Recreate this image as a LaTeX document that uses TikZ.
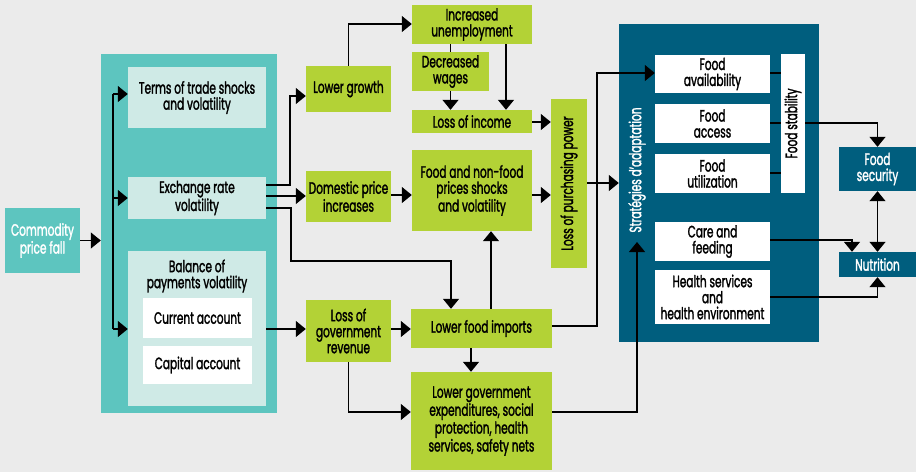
\documentclass[tikz,border=0pt]{standalone}
\usepackage{fontspec}
\setmainfont[FakeStretch=0.64, FakeBold=1.6]{Poppins}
\usetikzlibrary{arrows.meta}

\definecolor{bgrey}{HTML}{EBEBEB}
\definecolor{teal}{HTML}{5DC5BF}
\definecolor{paleteal}{HTML}{CFEAE6}
\definecolor{lime}{HTML}{B3D236}
\definecolor{deepteal}{HTML}{005E7E}

\tikzset{
  every node/.style={inner sep=1pt, align=center, font=\fontsize{16.5}{16}\selectfont},
  tealbox/.style={fill=teal, text=white},
  palebox/.style={fill=paleteal},
  greenbox/.style={fill=lime},
  whitebox/.style={fill=white},
  darkbox/.style={fill=deepteal, text=white},
  conn/.style={line width=1.3pt, black},
  arr/.style={conn, -{Triangle[length=10pt,width=16pt]}},
  darr/.style={conn, {Triangle[length=10pt,width=16pt]}-{Triangle[length=10pt,width=16pt]}},
}

\begin{document}
\begin{tikzpicture}[x=1pt, y=-1pt]
  % canvas
  \fill[bgrey] (0,0) rectangle (916,472);
  \useasboundingbox (0,0) rectangle (916,472);

  % --- left column ---
  \node[tealbox, minimum width=75pt, minimum height=65pt] (commodity) at (42.5,240.5) {Commodity\\price fall};
  \node[tealbox, minimum width=176pt, minimum height=359pt] (channels) at (189,233.5) {};
  \node[palebox, minimum width=138pt, minimum height=61pt] (terms) at (197,97.5) {Terms of trade shocks\\and volatility};
  \node[palebox, minimum width=138pt, minimum height=42pt] (exch) at (197,198) {Exchange rate\\volatility};
  \node[palebox, minimum width=138pt, minimum height=155pt] (bop) at (197,328.5) {};
  \node (boptext) at (197,276) {Balance of\\payments volatility};
  \node[whitebox, minimum width=109pt, minimum height=40pt] (current) at (197.5,318) {Current account};
  \node[whitebox, minimum width=109pt, minimum height=38pt] (capital) at (197.5,365) {Capital account};

  % --- middle column ---
  \node[greenbox, minimum width=85pt, minimum height=46pt] (growth) at (348.5,89) {Lower growth};
  \node[greenbox, minimum width=85pt, minimum height=51pt] (domestic) at (348.5,196.5) {Domestic price\\increases};
  \node[greenbox, minimum width=85pt, minimum height=62pt] (lossgov) at (348.5,331) {Loss of\\government\\revenue};

  \node[greenbox, minimum width=120pt, minimum height=39pt] (unemp) at (472,24.5) {Increased\\unemployment};
  \node[greenbox, minimum width=77pt, minimum height=39pt] (wages) at (450.5,71.5) {Decreased\\wages};
  \node[greenbox, minimum width=120pt, minimum height=23pt] (income) at (472,121.5) {Loss of income};
  \node[greenbox, minimum width=120pt, minimum height=81pt] (prices) at (472,190.5) {Food and non-food\\prices shocks\\and volatility};
  \node[greenbox, minimum width=141pt, minimum height=39pt] (imports) at (481.5,328.5) {Lower food imports};
  \node[greenbox, minimum width=141pt, minimum height=98pt] (govexp) at (481.5,421) {Lower government\\expenditures, social\\protection, health\\services, safety nets};
  % rotated: its north anchor faces left, south faces right
  \node[greenbox, minimum width=169pt, minimum height=36pt, rotate=90] (purch) at (569,183.5) {Loss of purchasing power};

  % --- adaptation block ---
  \node[darkbox, minimum width=200pt, minimum height=318pt] (adapt) at (719,183) {};
  \node[text=white, rotate=90] (adapttext) at (637,170) {Stratégies d’adaptation};
  \node[whitebox, minimum width=115pt, minimum height=38pt] (avail) at (712.5,74) {Food\\availability};
  \node[whitebox, minimum width=115pt, minimum height=39pt] (access) at (712.5,123.5) {Food\\access};
  \node[whitebox, minimum width=115pt, minimum height=39pt] (util) at (712.5,173.5) {Food\\utilization};
  \node[whitebox, minimum width=139pt, minimum height=24pt, rotate=90] (stab) at (793,123.5) {Food stability};
  \node[whitebox, minimum width=115pt, minimum height=39pt] (care) at (712.5,241.5) {Care and\\feeding};
  \node[whitebox, minimum width=115pt, minimum height=54pt] (health) at (712.5,297) {Health services\\and\\health environment};

  % --- outcomes ---
  \node[darkbox, minimum width=77pt, minimum height=44pt] (secur) at (877.5,169) {Food\\security};
  \node[darkbox, minimum width=77pt, minimum height=25pt] (nutr) at (877.5,264.5) {Nutrition};

  % --- junction points ---
  \coordinate (trunkTop) at (113,94);
  \coordinate (trunkBot) at (113,329);
  \coordinate (exA) at (290,185);
  \coordinate (exB) at (291,208);
  \coordinate (bendImp) at (451,261);
  \coordinate (sideRail) at (597,326);
  \coordinate (govRail) at (637,412);
  \coordinate (adaptIn) at (637,242);

  % --- connectors: left part ---
  \draw[arr] (commodity.east) -- (channels.west |- commodity.east);
  \draw[conn] (trunkTop) -- (trunkBot);
  \draw[arr] (trunkTop) -- (terms.west |- trunkTop);
  \draw[arr] (trunkTop |- exch.west) -- (exch.west);
  \draw[arr] (trunkBot) -- (bop.west |- trunkBot);

  \draw[arr] (exch.east |- exA) -- (exA) |- (growth.west |- 0,96);
  \draw[arr] (exch.east |- 0,196) -- (domestic.west |- 0,196);
  \draw[arr] (exch.east |- exB) -- (exB) |- (bendImp) -- (imports.north -| bendImp);
  \draw[arr] (bop.east |- 0,329) -- (lossgov.west |- 0,329);

  % --- connectors: middle part ---
  \draw[arr] (growth.north) |- (unemp.west |- 0,24);
  \draw[conn] (unemp.south -| wages.north) -- (wages.north);
  \draw[arr] (wages.south) -- (income.north -| wages.south);
  \draw[arr] (unemp.south -| 506,0) -- (income.north -| 506,0);
  \draw[arr] (income.east |- 0,122) -- (purch.north |- 0,122);
  \draw[arr] (domestic.east |- 0,195) -- (prices.west |- 0,195);
  \draw[arr] (prices.east |- 0,195) -- (purch.north |- 0,195);
  \draw[arr] (purch.south |- 0,183) -- (adapt.west |- 0,183);
  \draw[arr] (imports.east |- sideRail) -- (sideRail) |- (avail.west |- 0,73);
  \draw[arr] (imports.north -| 491,0) -- (prices.south -| 491,0);
  \draw[arr] (lossgov.east |- 0,329) -- (imports.west |- 0,329);
  \draw[arr] (imports.south -| 471,0) -- (govexp.north -| 471,0);
  \draw[arr] (lossgov.south) |- (govexp.west |- 0,412);
  \draw[arr] (govexp.east |- govRail) -- (govRail) -- (adaptIn);

  % --- connectors: right part ---
  \draw[conn] (avail.east |- 0,73) -- (stab.north |- 0,73);
  \draw[conn] (access.east |- 0,123) -- (stab.north |- 0,123);
  \draw[conn] (util.east |- 0,173) -- (stab.north |- 0,173);
  \draw[arr] (stab.south |- 0,123) -| (secur.north);
  \draw[darr] (secur.south) -- (nutr.north);
  \draw[arr] (care.east |- 0,240) -| (852,0 |- nutr.north);
  \draw[arr] (health.east |- 0,297) -| (nutr.south);
\end{tikzpicture}
\end{document}
